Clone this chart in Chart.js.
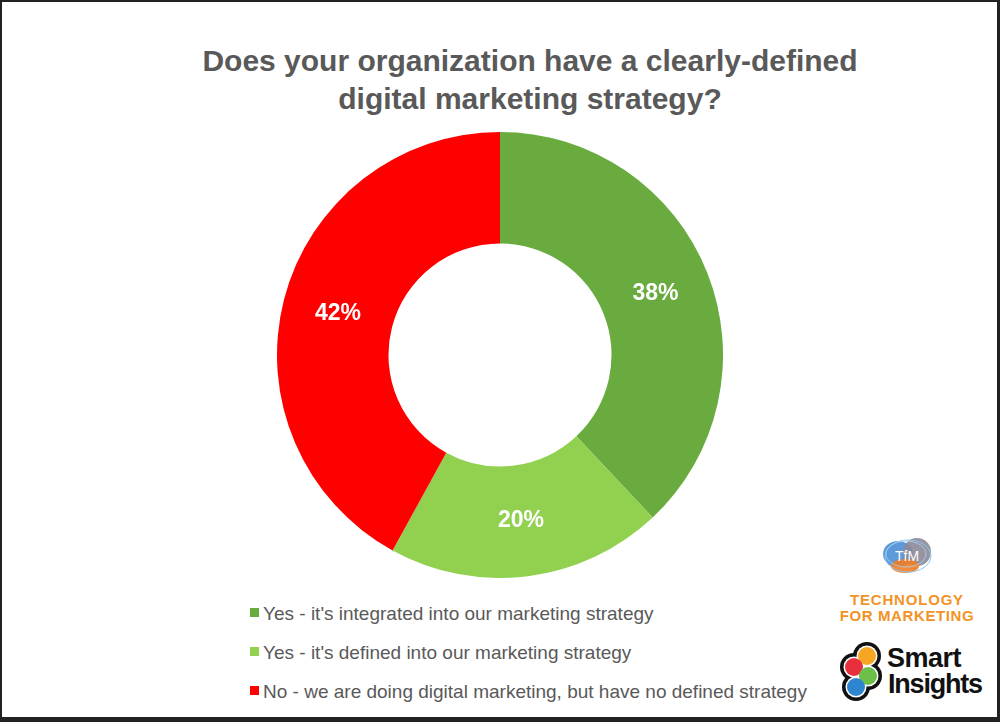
<!DOCTYPE html>
<html>
<head>
<meta charset="utf-8">
<script src="https://cdn.jsdelivr.net/npm/chart.js@4.4.1/dist/chart.umd.min.js"></script>
<style>
  html, body { margin: 0; padding: 0; background: #fff; overflow: hidden; }
  body { width: 1000px; height: 722px; position: relative; font-family: "Liberation Sans", Arial, sans-serif; }
  .frame { position: absolute; left: 0; top: 0; width: 1000px; height: 722px; box-sizing: border-box;
           border-style: solid; border-color: #222; border-width: 2px 3px 5px 2px; pointer-events: none; }
  .title { position: absolute; left: 130px; top: 42px; width: 800px; text-align: center;
           font-weight: bold; font-size: 30px; line-height: 38px; color: #595959; }
  .chartBox { position: absolute; left: 277px; top: 132px; width: 446px; height: 446px; }
  .legendBox { position: absolute; left: 250px; top: 594px; }
  .legendRow { position: relative; height: 39px; line-height: 39px; font-size: 19px; color: #595959; white-space: nowrap; padding-left: 13px; }
  .legendRow span.box { position: absolute; left: 0; top: 14px; width: 9px; height: 9px; }
  .logos { position: absolute; left: 820px; top: 530px; }
</style>
</head>
<body>
<div class="title">Does your organization have a clearly-defined<br>digital marketing strategy?</div>
<div class="chartBox"><canvas id="donut" width="446" height="446"></canvas></div>
<div class="legendBox" id="legendBox"></div>

<svg class="logos" width="175" height="185" viewBox="820 530 175 185">
  <!-- TfM 로고 -->
  <ellipse cx="898" cy="554" rx="15" ry="13" fill="#4b8fd6" opacity="0.9"/>
  <ellipse cx="917" cy="552" rx="14" ry="14" fill="#8c8a98" opacity="0.9"/>
  <ellipse cx="905" cy="566" rx="14" ry="7" fill="#f07e26" opacity="0.9"/>
  <ellipse cx="908" cy="556" rx="23" ry="16" fill="none" stroke="#8fc3ec" stroke-width="1"/>
  <ellipse cx="906" cy="554" rx="20" ry="13" fill="none" stroke="#a9d3f2" stroke-width="0.8"/>
  <text x="907" y="561" text-anchor="middle" font-family="Liberation Sans" font-size="14" fill="#fff">TfM</text>
  <text x="907" y="605" text-anchor="middle" font-family="Liberation Sans" font-weight="bold" font-size="15" letter-spacing="0.8" fill="#f39325">TECHNOLOGY</text>
  <text x="907" y="621" text-anchor="middle" font-family="Liberation Sans" font-weight="bold" font-size="15" letter-spacing="0.6" fill="#f39325">FOR MARKETING</text>
  <!-- Smart Insights 로고 -->
  <g>
    <circle cx="867" cy="656" r="14" fill="#111"/>
    <circle cx="854" cy="667" r="14" fill="#111"/>
    <circle cx="868" cy="676" r="14" fill="#111"/>
    <circle cx="856" cy="687" r="14" fill="#111"/>
    <circle cx="867" cy="656" r="10.5" fill="#fff"/>
    <circle cx="854" cy="667" r="10.5" fill="#fff"/>
    <circle cx="868" cy="676" r="10.5" fill="#fff"/>
    <circle cx="856" cy="687" r="10.5" fill="#fff"/>
    <circle cx="867" cy="656" r="9" fill="#f5a623"/>
    <circle cx="854" cy="667" r="9" fill="#e8303d"/>
    <circle cx="868" cy="676" r="9" fill="#6cc04a"/>
    <circle cx="856" cy="687" r="9" fill="#2f86d0"/>
  </g>
  <text x="887" y="667" font-family="Liberation Sans" font-weight="bold" font-size="27" letter-spacing="-0.5" fill="#111">Smart</text>
  <text x="888" y="693" font-family="Liberation Sans" font-weight="bold" font-size="27" letter-spacing="-1.2" fill="#111">Insights</text>
</svg>

<div class="frame"></div>

<script>
'use strict'

//카테고리
const categories = [
    "Yes - it's integrated into our marketing strategy",
    "Yes - it's defined into our marketing strategy",
    "No - we are doing digital marketing, but have no defined strategy"
];
//비율 (%)
const shares = [38, 20, 42];
//조각 색상
const sliceColors = ['#69ab3e', '#92d050', '#ff0000'];

//조각 위 퍼센트 라벨
const sliceLabels = {
    id: 'sliceLabels',
    afterDatasetsDraw(chart){
        const ctx = chart.ctx;
        const meta = chart.getDatasetMeta(0);
        ctx.save();
        ctx.fillStyle = '#ffffff';
        ctx.font = 'bold 23px "Liberation Sans", Arial, sans-serif';
        ctx.textAlign = 'center';
        ctx.textBaseline = 'middle';
        meta.data.forEach((arc, i) => {
            const pos = arc.tooltipPosition();
            ctx.fillText(shares[i] + '%', pos.x, pos.y);
        });
        ctx.restore();
    }
};

new Chart(document.getElementById('donut'), {
    type: 'doughnut',
    data: {
        labels: categories,
        datasets: [{
            data: shares,
            backgroundColor: sliceColors,
            borderWidth: 0
        }]
    },
    options: {
        responsive: false,
        animation: false,
        cutout: '50%',
        layout: { padding: 0 },
        plugins: {
            legend: { display: false },
            tooltip: { enabled: false }
        }
    },
    plugins: [sliceLabels]
});

//범례 만들기
const legendBox = document.getElementById('legendBox');
categories.forEach((label, i) => {
    const row = document.createElement('div');
    row.className = 'legendRow';
    const box = document.createElement('span');
    box.className = 'box';
    box.style.background = sliceColors[i];
    row.appendChild(box);
    row.appendChild(document.createTextNode(label));
    legendBox.appendChild(row);
});
</script>
</body>
</html>
